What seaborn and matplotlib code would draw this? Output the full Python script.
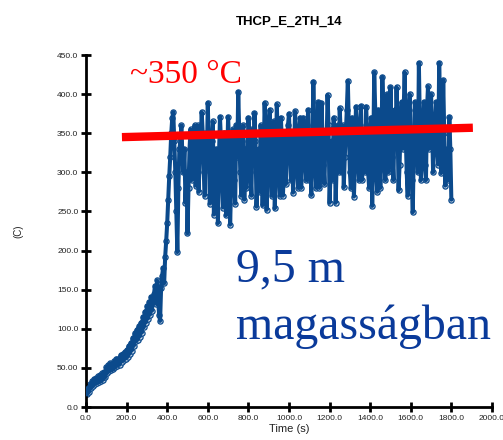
import numpy as np
import pandas as pd
import seaborn as sns
import matplotlib
matplotlib.use("Agg")
import matplotlib.pyplot as plt

step_s = 5
ramp_values = [20, 16, 25, 19, 29, 24, 33, 27, 36, 30,
               37, 31, 39, 32, 41, 33, 43, 35, 45, 38,
               51, 44, 54, 46, 56, 47, 55, 48, 59, 51,
               62, 53, 61, 54, 66, 58, 68, 60, 70, 62,
               73, 64, 78, 68, 82, 72, 88, 78, 94, 84,
               99, 86, 103, 90, 108, 95, 115, 102, 122, 108,
               129, 113, 134, 118, 141, 123, 137, 145, 155, 132,
               162, 138, 118, 110, 152, 168, 178, 158, 192, 212,
               235, 265, 295, 320, 350, 370, 377, 340, 300]
plateau_values = [250, 198, 280, 330, 340, 360, 320, 300, 330, 261,
                  300, 222, 280, 330, 355, 290, 310, 345, 360, 283,
                  300, 360, 275, 320, 340, 377, 350, 300, 270, 350,
                  310, 389, 330, 260, 300, 340, 365, 246, 280, 330,
                  300, 235, 320, 371, 340, 290, 255, 350, 330, 245,
                  310, 371, 340, 233, 280, 330, 355, 290, 260, 360,
                  320, 403, 350, 300, 270, 340, 360, 265, 330, 280,
                  310, 370, 350, 300, 270, 355, 320, 376, 340, 256,
                  290, 330, 275, 360, 340, 258, 310, 389, 350, 252,
                  300, 360, 380, 310, 270, 340, 365, 254, 300, 387,
                  345, 300, 270, 370, 340, 270, 300, 350, 285, 330,
                  360, 375, 330, 290, 350, 274, 320, 378, 350, 300,
                  280, 350, 370, 280, 310, 370, 340, 320, 290, 360,
                  380, 290, 340, 271, 330, 416, 360, 300, 280, 360,
                  390, 280, 320, 389, 350, 310, 285, 350, 330, 399,
                  360, 261, 300, 340, 290, 370, 345, 261, 310, 360,
                  300, 382, 350, 300, 360, 281, 320, 350, 380, 417,
                  360, 300, 280, 370, 340, 269, 310, 384, 350, 320,
                  290, 360, 385, 290, 320, 350, 300, 384, 355, 300,
                  280, 340, 370, 257, 320, 428, 380, 300, 275, 380,
                  340, 280, 320, 422, 380, 310, 290, 370, 400, 300,
                  330, 409, 360, 320, 290, 380, 340, 409, 360, 277,
                  310, 360, 390, 330, 380, 428, 350, 300, 270, 380,
                  400, 320, 290, 249, 330, 390, 370, 340, 300, 440,
                  360, 290, 320, 360, 390, 310, 290, 380, 410, 330,
                  350, 400, 360, 300, 330, 360, 390, 340, 310, 440,
                  380, 299, 330, 418, 350, 283, 310, 330, 290, 371,
                  330, 265]
temps = ramp_values + plateau_values
times = [i * step_s for i in range(len(temps))]

yticks = [0, 50, 100, 150, 200, 250, 300, 350, 400, 450]
ytick_labels = ["0.0", "50.00", "100.0", "150.0", "200.0", "250.0",
                "300.0", "350.0", "400.0", "450.0"]
xticks = [0, 200, 400, 600, 800, 1000, 1200, 1400, 1600, 1800, 2000]
xtick_labels = ["0.0", "200.0", "400.0", "600.0", "800.0", "1000.0",
                "1200.0", "1400.0", "1600.0", "1800.0", "2000.0"]

trend_x = [177, 1906]
trend_y = [345, 357]

title = "THCP_E_2TH_14"
xlabel = "Time (s)"
ylabel = "(C)"
note_red = "~350 °C"
note_blue_1 = "9,5 m"
note_blue_2 = "magasságban"

df = pd.DataFrame({"time": times, "temp": temps})

sns.set_theme(style="white")
plt.rcParams["font.family"] = ["Liberation Sans", "DejaVu Sans"]

fig = plt.figure(figsize=(5.03, 4.40), dpi=100)
ax = fig.add_axes([0.171, 0.075, 0.807, 0.800])

line_col = "#0b4a8c"
sns.scatterplot(data=df, x="time", y="temp", ax=ax, s=14,
                facecolor="#cfdbe9", edgecolor=line_col, linewidth=0.9,
                zorder=2, legend=False)
sns.lineplot(data=df, x="time", y="temp", ax=ax, color=line_col,
             linewidth=2.9, zorder=3)

ax.set_xlim(0, 2000)
ax.set_ylim(0, 450)
ax.set_xticks(xticks)
ax.set_xticklabels(xtick_labels)
ax.set_yticks(yticks)
ax.set_yticklabels(ytick_labels)
ax.tick_params(axis="both", direction="inout", length=7, width=2,
               color="black", labelsize=6, labelcolor="#222222", pad=2,
               bottom=True, left=True)
for s in ["top", "right"]:
    ax.spines[s].set_visible(False)
for s in ["left", "bottom"]:
    ax.spines[s].set_color("black")
    ax.spines[s].set_linewidth(2)

ax.set_xlabel(xlabel, fontsize=8, color="#222222", labelpad=2)
ax.set_ylabel(ylabel, fontsize=7, color="#222222", labelpad=24)

fig.text(0.574, 0.95, title, ha="center", va="center",
         fontsize=9.5, fontweight="bold", color="black")

ax.plot(trend_x, trend_y, color="#ff0000", linewidth=6,
        solid_capstyle="butt", zorder=5, clip_on=False)

serif = ["Liberation Serif", "DejaVu Serif"]
fig.text(130 / 503, 1 - 83 / 440, note_red, ha="left", va="baseline",
         fontsize=24, color="#ff0000", family=serif)
fig.text(236 / 503, 1 - 281 / 440, note_blue_1, ha="left", va="baseline",
         fontsize=34.5, color="#0a3a9a", family=serif)
fig.text(236 / 503, 1 - 339 / 440, note_blue_2, ha="left", va="baseline",
         fontsize=34.5, color="#0a3a9a", family=serif)

fig.savefig("out.png", dpi=100)
